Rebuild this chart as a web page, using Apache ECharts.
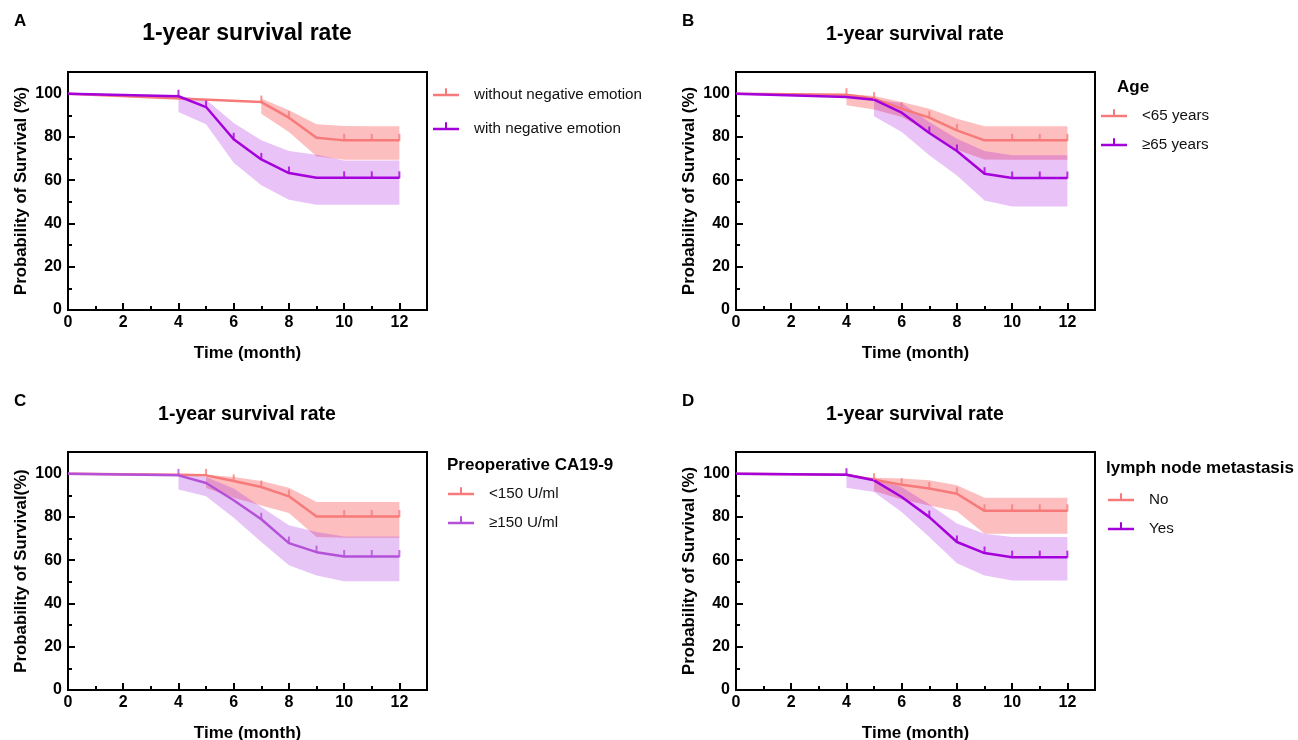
<!DOCTYPE html>
<html>
<head>
<meta charset="utf-8">
<script src="https://cdn.jsdelivr.net/npm/echarts@6/dist/echarts.min.js"></script>
<style>html,body{margin:0;padding:0;background:#fff;}#chart{width:1298px;height:740px;}</style>
</head>
<body>
<div id="chart"></div>
<script>
// ---------- DATA ----------
const xMajorTicks = [0, 2, 4, 6, 8, 10, 12];
const xMinorTicks = [1, 3, 5, 7, 9, 11];
const yMajorTicks = [0, 20, 40, 60, 80, 100];
const yMinorTicks = [10, 30, 50, 70, 90];

// Panel A
const namesA = ['without negative emotion', 'with negative emotion'];
const timesA1 = [0, 7, 8, 9, 10, 11, 12];
const survA1 = [100, 96.1, 88.9, 79.6, 78.4, 78.4, 78.4];
const censorA1 = [7, 8, 10, 11, 12];
const bandTimesA1 = [7, 8, 9, 10, 11, 12];
const bandLoA1 = [90.7, 82.3, 71.1, 69.5, 69.5, 69.5];
const bandHiA1 = [97.7, 92.3, 85.8, 85.0, 84.9, 84.9];
const timesA2 = [0, 4, 5, 6, 7, 8, 9, 10, 11, 12];
const survA2 = [100, 98.8, 93.8, 78.9, 69.6, 63.3, 61.1, 61.1, 61.1, 61.1];
const censorA2 = [4, 5, 6, 7, 8, 10, 11, 12];
const bandTimesA2 = [4, 5, 6, 7, 8, 9, 10, 11, 12];
const bandLoA2 = [91.5, 85.8, 68.1, 57.6, 50.9, 48.6, 48.6, 48.6, 48.6];
const bandHiA2 = [98.8, 97.2, 86.4, 78.4, 73.5, 71.8, 69.1, 69.1, 69.1];

// Panel B
const namesB = ['<65 years', '≥65 years'];
const timesB1 = [0, 4, 5, 6, 7, 8, 9, 10, 11, 12];
const survB1 = [100, 99.5, 97.7, 93.1, 88.9, 83.0, 78.4, 78.4, 78.4, 78.4];
const censorB1 = [4, 5, 6, 7, 8, 10, 11, 12];
const bandTimesB1 = [4, 5, 6, 7, 8, 9, 10, 11, 12];
const bandLoB1 = [94.6, 92.7, 89.2, 82.3, 74.1, 69.6, 69.4, 69.4, 69.4];
const bandHiB1 = [99.8, 98.9, 96.1, 93.0, 88.4, 84.9, 84.9, 84.9, 84.9];
const timesB2 = [0, 4, 5, 6, 7, 8, 9, 10, 11, 12];
const survB2 = [100, 98.5, 97.2, 91.2, 81.8, 73.5, 63.0, 61.0, 61.0, 61.0];
const censorB2 = [7, 8, 9, 10, 11, 12];
const bandTimesB2 = [5, 6, 7, 8, 9, 10, 11, 12];
const bandLoB2 = [89.5, 82.3, 71.5, 62.2, 50.6, 47.8, 47.8, 47.8];
const bandHiB2 = [97.2, 95.7, 86.9, 79.2, 73.5, 71.5, 71.5, 71.5];

// Panel C
const namesC = ['<150 U/ml', '≥150 U/ml'];
const timesC1 = [0, 4, 5, 6, 7, 8, 9, 10, 11, 12];
const survC1 = [100, 99.5, 99.2, 96.6, 93.8, 89.5, 80.2, 80.2, 80.2, 80.2];
const censorC1 = [5, 6, 7, 8, 10, 11, 12];
const bandTimesC1 = [5, 6, 7, 8, 9, 10, 11, 12];
const bandLoC1 = [93.4, 88.9, 85.3, 81.8, 70.7, 70.4, 70.4, 70.4];
const bandHiC1 = [99.5, 98.5, 96.6, 93.5, 86.9, 86.9, 86.9, 86.9];
const timesC2 = [0, 4, 5, 6, 7, 8, 9, 10, 11, 12];
const survC2 = [100, 99.2, 95.7, 87.7, 78.9, 67.9, 63.7, 61.7, 61.7, 61.7];
const censorC2 = [4, 7, 8, 9, 10, 11, 12];
const bandTimesC2 = [4, 5, 6, 7, 8, 9, 10, 11, 12];
const bandLoC2 = [92.7, 89.5, 79.6, 68.4, 57.6, 52.9, 50.3, 50.3, 50.3];
const bandHiC2 = [100, 98.5, 93.1, 84.6, 76.1, 73.0, 71.0, 71.0, 71.0];

// Panel D
const namesD = ['No', 'Yes'];
const timesD1 = [0, 4, 5, 6, 7, 8, 9, 10, 11, 12];
const survD1 = [100, 99.5, 97.2, 94.9, 93.1, 90.7, 82.8, 82.8, 82.8, 82.8];
const censorD1 = [5, 6, 7, 8, 9, 10, 11, 12];
const bandTimesD1 = [5, 6, 7, 8, 9, 10, 11, 12];
const bandLoD1 = [92.0, 88.0, 85.3, 82.6, 72.2, 72.2, 72.2, 72.2];
const bandHiD1 = [98.1, 97.7, 96.9, 94.6, 88.9, 88.9, 88.9, 88.9];
const timesD2 = [0, 4, 5, 6, 7, 8, 9, 10, 11, 12];
const survD2 = [100, 99.5, 96.9, 89.2, 79.9, 68.4, 63.3, 61.4, 61.4, 61.4];
const censorD2 = [4, 7, 8, 9, 10, 11, 12];
const bandTimesD2 = [4, 5, 6, 7, 8, 9, 10, 11, 12];
const bandLoD2 = [93.5, 91.5, 82.3, 70.7, 58.6, 52.9, 50.6, 50.6, 50.6];
const bandHiD2 = [99.2, 98.1, 93.8, 85.8, 76.9, 72.2, 70.7, 70.7, 70.7];

// ---------- STYLE ----------
const FONT = '"Liberation Sans", Arial, Helvetica, sans-serif';
const RED = '#F77A7A';
const RED_BAND = 'rgba(248,120,120,0.48)';
const PURPLE = '#A400DC';
const PURPLE_BAND = 'rgba(170,20,225,0.26)';
const PURPLE_C = '#B451D8';
const PURPLE_C_BAND = 'rgba(175,60,225,0.30)';

const panels = [
  { left: 68, top: 72, letter: 'A', title: '1-year survival rate', titleSize: 23, titleX: 242,
    ylabel: 'Probability of Survival (%)', head: null,
    legend: { left: 433, top: 87, gap: 18 },
    names: namesA,
    s: [
      { t: timesA1, v: survA1, c: censorA1, bt: bandTimesA1, lo: bandLoA1, hi: bandHiA1, color: RED, band: RED_BAND },
      { t: timesA2, v: survA2, c: censorA2, bt: bandTimesA2, lo: bandLoA2, hi: bandHiA2, color: PURPLE, band: PURPLE_BAND }
    ] },
  { left: 736, top: 72, letter: 'B', title: '1-year survival rate', titleSize: 19.5, titleX: 910,
    ylabel: 'Probability of Survival (%)', head: { text: 'Age', x: 1117, y: 79 },
    legend: { left: 1101, top: 108, gap: 13 },
    names: namesB,
    s: [
      { t: timesB1, v: survB1, c: censorB1, bt: bandTimesB1, lo: bandLoB1, hi: bandHiB1, color: RED, band: RED_BAND },
      { t: timesB2, v: survB2, c: censorB2, bt: bandTimesB2, lo: bandLoB2, hi: bandHiB2, color: PURPLE, band: PURPLE_BAND }
    ] },
  { left: 68, top: 452, letter: 'C', title: '1-year survival rate', titleSize: 19.5, titleX: 242,
    ylabel: 'Probability of Survival(%)', head: { text: 'Preoperative CA19-9', x: 447, y: 457 },
    legend: { left: 448, top: 486, gap: 13 },
    names: namesC,
    s: [
      { t: timesC1, v: survC1, c: censorC1, bt: bandTimesC1, lo: bandLoC1, hi: bandHiC1, color: RED, band: RED_BAND },
      { t: timesC2, v: survC2, c: censorC2, bt: bandTimesC2, lo: bandLoC2, hi: bandHiC2, color: PURPLE_C, band: PURPLE_C_BAND }
    ] },
  { left: 736, top: 452, letter: 'D', title: '1-year survival rate', titleSize: 19.5, titleX: 910,
    ylabel: 'Probability of Survival (%)', head: { text: 'lymph node metastasis', x: 1106, y: 460 },
    legend: { left: 1108, top: 492, gap: 13 },
    names: namesD,
    s: [
      { t: timesD1, v: survD1, c: censorD1, bt: bandTimesD1, lo: bandLoD1, hi: bandHiD1, color: RED, band: RED_BAND },
      { t: timesD2, v: survD2, c: censorD2, bt: bandTimesD2, lo: bandLoD2, hi: bandHiD2, color: PURPLE, band: PURPLE_BAND }
    ] }
];

// line with an upward tick; a tiny invisible speck below keeps the line vertically centred
const LEGEND_ICON = 'path://M0,6 L26,6 L26,8.5 L0,8.5 Z M12,0.5 L14,0.5 L14,6 L12,6 Z M13,14 L13.01,14 L13.01,14.01 Z';

const grid = [], xAxis = [], yAxis = [], series = [], title = [], legend = [];
const axisTextStyle = { fontFamily: FONT, fontSize: 16, fontWeight: 'bold', color: '#000' };

panels.forEach((p, g) => {
  grid.push({ left: p.left, top: p.top, width: 359, height: 238, show: true,
    outerBoundsMode: 'none', containLabel: false,
    borderColor: '#000', borderWidth: 2, backgroundColor: 'transparent' });
  const xi = xAxis.length, yi = yAxis.length;
  xAxis.push({
    gridIndex: g, type: 'value', min: 0, max: 13, position: 'bottom',
    axisLine: { show: true, onZero: false, lineStyle: { color: '#000', width: 2 } },
    axisTick: { show: true, inside: true, length: 7, customValues: xMajorTicks, lineStyle: { color: '#000', width: 2 } },
    axisLabel: Object.assign({ customValues: xMajorTicks, margin: 5 }, axisTextStyle),
    splitLine: { show: false },
    name: 'Time (month)', nameLocation: 'middle', nameGap: 35,
    nameTextStyle: { fontFamily: FONT, fontSize: 17, fontWeight: 'bold', color: '#000' }
  });
  xAxis.push({
    gridIndex: g, type: 'value', min: 0, max: 13, position: 'bottom',
    axisLine: { show: false, onZero: false },
    axisTick: { show: true, inside: true, length: 4, customValues: xMinorTicks, lineStyle: { color: '#000', width: 2 } },
    axisLabel: { show: false }, splitLine: { show: false }
  });
  yAxis.push({
    gridIndex: g, type: 'value', min: 0, max: 110, position: 'left',
    axisLine: { show: true, onZero: false, lineStyle: { color: '#000', width: 2 } },
    axisTick: { show: true, inside: true, length: 7, customValues: yMajorTicks, lineStyle: { color: '#000', width: 2 } },
    axisLabel: Object.assign({ customValues: yMajorTicks, margin: 6 }, axisTextStyle),
    splitLine: { show: false },
    name: p.ylabel, nameLocation: 'middle', nameGap: 38,
    nameTextStyle: { fontFamily: FONT, fontSize: 16.8, fontWeight: 'bold', color: '#000' }
  });
  yAxis.push({
    gridIndex: g, type: 'value', min: 0, max: 110, position: 'left',
    axisLine: { show: false, onZero: false },
    axisTick: { show: true, inside: true, length: 4, customValues: yMinorTicks, lineStyle: { color: '#000', width: 2 } },
    axisLabel: { show: false }, splitLine: { show: false }
  });

  // confidence bands
  p.s.forEach((s) => {
    series.push({
      type: 'custom', xAxisIndex: xi, yAxisIndex: yi, silent: true, z: 1, clip: true,
      data: s.bt.map((t, i) => [t, s.lo[i], s.hi[i]]),
      encode: { x: 0, y: [1, 2] },
      renderItem: (params, api) => {
        if (params.dataIndex !== 0) return null;
        const pts = [];
        for (let i = 0; i < s.bt.length; i++) pts.push(api.coord([s.bt[i], s.hi[i]]));
        for (let i = s.bt.length - 1; i >= 0; i--) pts.push(api.coord([s.bt[i], s.lo[i]]));
        return { type: 'polygon', shape: { points: pts }, style: { fill: s.band } };
      }
    });
  });
  // survival lines + censor ticks
  p.s.forEach((s, k) => {
    series.push({
      type: 'line', name: p.names[k], xAxisIndex: xi, yAxisIndex: yi, z: 3,
      data: s.t.map((t, i) => [t, s.v[i]]),
      showSymbol: false, symbol: 'none', silent: true,
      lineStyle: { color: s.color, width: 2.5 },
      itemStyle: { color: s.color }
    });
    series.push({
      type: 'scatter', name: p.names[k] + ' censored', xAxisIndex: xi, yAxisIndex: yi, z: 4, silent: true,
      data: s.c.map(t => [t, s.v[s.t.indexOf(t)]]),
      symbol: 'rect', symbolSize: [2, 7], symbolOffset: [0, -3],
      itemStyle: { color: s.color }
    });
  });

  title.push({ text: p.letter, left: p.left - 59, top: p.top - 64,
    textStyle: { fontFamily: FONT, fontSize: 17, fontWeight: 'bold', color: '#000' } });
  title.push({ text: p.title, left: p.titleX, top: p.top - 44 - p.titleSize / 2 + 1, textAlign: 'center',
    textStyle: { fontFamily: FONT, fontSize: p.titleSize, fontWeight: 'bold', color: '#000' } });
  if (p.head) {
    title.push({ text: p.head.text, left: p.head.x, top: p.head.y, padding: 0,
      textStyle: { fontFamily: FONT, fontSize: 17, fontWeight: 'bold', color: '#000' } });
  }
  legend.push({
    left: p.legend.left, top: p.legend.top, orient: 'vertical', padding: 0,
    itemGap: p.legend.gap, itemWidth: 26, itemHeight: 14, icon: LEGEND_ICON,
    selectedMode: false, data: p.names,
    textStyle: { fontFamily: FONT, fontSize: 15.2, color: '#111', lineHeight: 16, padding: [0, 0, 0, 10] }
  });
});

const chart = echarts.init(document.getElementById('chart'), null, { renderer: 'canvas' });
chart.setOption({
  animation: false,
  backgroundColor: '#fff',
  title, legend, grid, xAxis, yAxis, series
});
</script>
</body>
</html>
